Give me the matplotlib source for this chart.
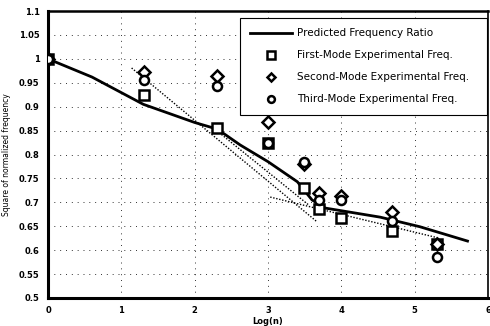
import matplotlib
matplotlib.use("Agg")
import matplotlib.pyplot as plt
from matplotlib.ticker import FixedLocator

# Data
pred_x = [0.0, 0.6, 1.3, 2.0, 2.31, 2.62, 3.0, 3.40, 3.60, 3.78, 4.53, 5.07, 5.72]
pred_y = [1.0, 0.962, 0.905, 0.867, 0.853, 0.820, 0.785, 0.743, 0.705, 0.688, 0.669, 0.649, 0.619]

mode1_x = [0.0, 1.31, 2.31, 3.0, 3.49, 3.70, 4.0, 4.69, 5.31]
mode1_y = [1.0, 0.925, 0.855, 0.825, 0.730, 0.686, 0.667, 0.640, 0.613]

mode2_x = [0.0, 1.31, 2.31, 3.0, 3.49, 3.70, 4.0, 4.69, 5.31]
mode2_y = [1.0, 0.973, 0.964, 0.868, 0.780, 0.720, 0.713, 0.680, 0.613]

mode3_x = [0.0, 1.31, 2.31, 3.0, 3.49, 3.70, 4.0, 4.69, 5.31]
mode3_y = [1.0, 0.956, 0.944, 0.825, 0.785, 0.705, 0.705, 0.662, 0.586]

fitA_x = [1.14, 3.67]
fitA_y = [0.981, 0.659]
fitB_x = [2.3, 3.55]
fitB_y = [0.850, 0.695]
fitC_x = [3.03, 5.31]
fitC_y = [0.711, 0.626]

xticks = [0, 1, 2, 3, 4, 5, 6]
yticks = [0.5, 0.55, 0.6, 0.65, 0.7, 0.75, 0.8, 0.85, 0.9, 0.95, 1.0, 1.05, 1.1]
ytick_labels = ["0.5", "0.55", "0.6", "0.65", "0.7", "0.75", "0.8", "0.85", "0.9", "0.95", "1", "1.05", "1.1"]

fig = plt.figure(figsize=(4.9, 3.26), dpi=100)
ax = fig.add_axes([0.098, 0.086, 0.898, 0.880])

ax.set_xlim(0, 6)
ax.set_ylim(0.5, 1.1)
ax.xaxis.set_major_locator(FixedLocator(xticks))
ax.yaxis.set_major_locator(FixedLocator(yticks))
ax.set_yticklabels(ytick_labels)
ax.tick_params(length=0, labelsize=6, pad=6)
for lab in ax.get_xticklabels() + ax.get_yticklabels():
    lab.set_fontweight("bold")
ax.grid(True, color="#333333", linestyle=(0, (1, 5)), linewidth=0.7)
for s in ax.spines.values():
    s.set_linewidth(1.2)
ax.spines["left"].set_linewidth(2.2)
ax.spines["bottom"].set_linewidth(2.2)
ax.spines["top"].set_linewidth(1.8)

ax.plot(fitA_x, fitA_y, color="black", linestyle=(0, (1, 1.2)), linewidth=1.0)
ax.plot(fitB_x, fitB_y, color="black", linestyle=(0, (1, 1.2)), linewidth=1.0)
ax.plot(fitC_x, fitC_y, color="black", linestyle=(0, (1, 1.2)), linewidth=1.0)

ax.plot(pred_x, pred_y, color="black", linewidth=2.0, label="Predicted Frequency Ratio", zorder=3)
ax.plot(mode1_x, mode1_y, linestyle="none", marker="s", markersize=7, markerfacecolor="white",
        markeredgecolor="black", markeredgewidth=1.8, label="First-Mode Experimental Freq.", zorder=4)
ax.plot(mode2_x, mode2_y, linestyle="none", marker="D", markersize=6, markerfacecolor="white",
        markeredgecolor="black", markeredgewidth=1.8, label="Second-Mode Experimental Freq.", zorder=4)
ax.plot(mode3_x, mode3_y, linestyle="none", marker="o", markersize=6.5, markerfacecolor="white",
        markeredgecolor="black", markeredgewidth=1.8, label="Third-Mode Experimental Freq.", zorder=4)

leg = ax.legend(loc="upper left", bbox_to_anchor=(0.436, 0.645, 0.562, 0.331), mode="expand",
                fontsize=7.5, frameon=True, fancybox=False, edgecolor="black", framealpha=1,
                borderpad=1.0, labelspacing=1.15, handlelength=4.0, handletextpad=0.5,
                markerscale=0.75, borderaxespad=0)
leg.get_frame().set_linewidth(0.8)

ax.set_ylabel("Square of normalized frequency", fontsize=5.5, labelpad=6)
ax.set_xlabel("Log(n)", fontsize=6, fontweight="bold", labelpad=1)

fig.savefig("out.png", dpi=100)
